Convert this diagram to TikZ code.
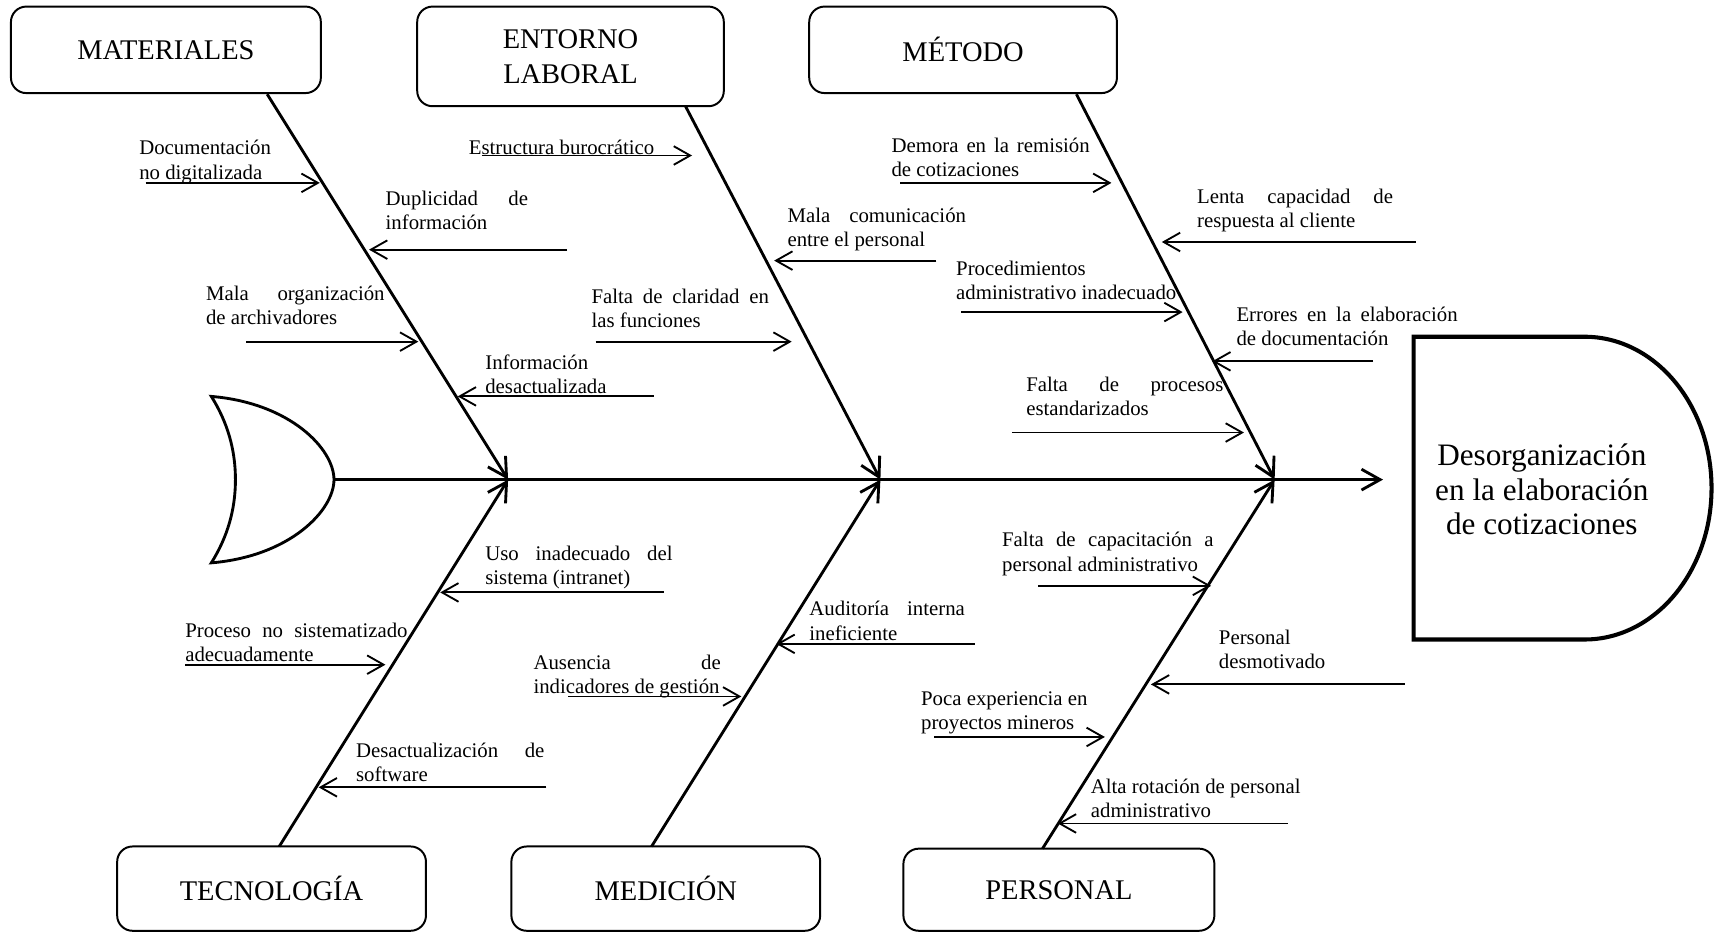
\documentclass[tikz,border=0pt]{standalone}
\usepackage{fontspec}
\setmainfont{Liberation Serif}
\usetikzlibrary{arrows.meta}
\newcommand\labfont{\fontsize{19}{22}\selectfont}
\newcommand\catfont{\fontsize{26}{32}\selectfont}
\newcommand\efffont{\fontsize{28.5}{31.5}\selectfont}
% a line spread out to a given width (pt)
\newcommand\jline[2]{\makebox[#1pt][s]{#2}}
\tikzset{
  catbox/.style={draw, line width=1.8pt, rounded corners=14pt, inner sep=0pt,
                 align=center, font=\catfont},
  % labels are placed by the baseline of their last line
  lab/.style={anchor=base west, inner sep=0pt, align=left, font=\labfont},
  cause/.style={-{Straight Barb[length=15pt,width=17pt]}, line width=1.7pt},
  bone/.style={-{Straight Barb[length=17pt,width=19pt]}, line width=2.6pt},
}
\begin{document}
\begin{tikzpicture}[x=1pt,y=-1pt]
\useasboundingbox (0,0) rectangle (1568,852);

% category boxes
\node[catbox, minimum width=283pt, minimum height=79pt] (mat) at (151.5,45.5) {\raisebox{-2pt}{MATERIALES}};
\node[catbox, minimum width=280pt, minimum height=91pt] (ent) at (521,51.5) {ENTORNO\\LABORAL};
\node[catbox, minimum width=281pt, minimum height=79pt] (met) at (879.5,45.5) {\raisebox{-2pt}{MÉTODO}};
\node[catbox, minimum width=282pt, minimum height=77pt] (tec) at (248,811.5) {\raisebox{-2pt}{TECNOLOGÍA}};
\node[catbox, minimum width=282pt, minimum height=77pt] (med) at (608,811.5) {MEDICIÓN};
\node[catbox, minimum width=284pt, minimum height=75pt] (per) at (967,812.5) {\raisebox{-2pt}{PERSONAL}};

% tail
\draw[line width=2.6pt, line join=miter]
  (193,362) .. controls (265,368) and (305,410) .. (305,438)
            .. controls (305,466) and (265,508) .. (193,514)
            .. controls (208,490) and (215,465) .. (215,438)
            .. controls (215,411) and (208,386) .. (193,362) -- cycle;
\coordinate (tail) at (305,438);
\coordinate (head) at (1263,438);

% head (effect)
\draw[line width=3.7pt, line join=miter]
  (1447,307.5) -- (1291,307.5) -- (1291,584) -- (1447,584)
  arc[start angle=-90, end angle=90, x radius=116pt, y radius=138.25pt];
\node[font=\efffont, align=center, inner sep=0pt] (eff) at (1408,447)
  {Desorganización\\en la elaboración\\de cotizaciones};

% spine and junctions
\coordinate (j1) at (464,438);
\coordinate (j2) at (804,438);
\coordinate (j3) at (1164,438);
\draw[bone] (tail) -- (head);

% bones
\coordinate (matb) at (244,86);
\coordinate (entb) at (626,97);
\coordinate (metb) at (983,86);
\coordinate (tecb) at (255,773);
\coordinate (medb) at (595,773);
\coordinate (perb) at (952,775);
\draw[bone] (matb) -- (j1);
\draw[bone] (tecb) -- (j1);
\draw[bone] (entb) -- (j2);
\draw[bone] (medb) -- (j2);
\draw[bone] (metb) -- (j3);
\draw[bone] (perb) -- (j3);

% cause arrows: number / start x / end x / y
\foreach \n/\xa/\xb/\y in {
  1/133/292/167, 2/518/337/228, 3/225/382/312, 4/597/418/362,
  5/440/632/142, 6/855/707/238, 7/544/723/312,
  8/822/1015/167, 9/1293/1061/221, 10/878/1080/285, 11/1254/1107/330, 12/924/1136/395,
  13/606/402/541, 14/169/352/607, 15/499/291/719,
  16/890/709/588, 17/519/677/636,
  18/948/1106/535, 19/1283/1051/625, 20/853/1009/673, 21/1176/966/752}
{
  \coordinate (s\n) at (\xa,\y);
  \coordinate (e\n) at (\xb,\y);
  \draw[cause] (s\n) -- (e\n);
}

% cause labels
\node[lab] (l1) at (127,163.5) {Documentación\\no digitalizada};
\node[lab] (l2) at (352,209.5) {\jline{130}{Duplicidad de}\\información};
\node[lab] (l3) at (188,296.5) {\jline{163}{Mala organización}\\de archivadores};
\node[lab] (l4) at (443,359.5) {Información\\desactualizada};
\node[lab] (l5) at (428,141) {Estructura burocrático};
\node[lab] (l6) at (719,225.5) {\jline{163}{Mala comunicación}\\entre el personal};
\node[lab] (l7) at (540,299.5) {\jline{162}{Falta de claridad en}\\las funciones};
\node[lab] (l8) at (814,161.5) {\jline{181}{Demora en la remisión}\\de cotizaciones};
\node[lab] (l9) at (1093,207.5) {\jline{179}{Lenta capacidad de}\\respuesta al cliente};
\node[lab] (l10) at (873,273.5) {Procedimientos\\administrativo inadecuado};
\node[lab] (l11) at (1129,315.5) {\jline{202}{Errores en la elaboración}\\de documentación};
\node[lab] (l12) at (937,379.5) {\jline{180}{Falta de procesos}\\estandarizados};
\node[lab] (l13) at (443,533.5) {\jline{171}{Uso inadecuado del}\\sistema (intranet)};
\node[lab] (l14) at (169,604.5) {\jline{203}{Proceso no sistematizado}\\adecuadamente};
\node[lab] (l15) at (325,713.5) {\jline{172}{Desactualización de}\\software};
\node[lab] (l16) at (739,584.5) {\jline{142}{Auditoría interna}\\ineficiente};
\node[lab] (l17) at (487,633.5) {\jline{171}{Ausencia de}\\indicadores de gestión};
\node[lab] (l18) at (915,521.5) {\jline{193}{Falta de capacitación a}\\personal administrativo};
\node[lab] (l19) at (1113,610.5) {Personal\\desmotivado};
\node[lab] (l20) at (841,666.5) {Poca experiencia en\\proyectos mineros};
\node[lab] (l21) at (996,746.5) {Alta rotación de personal\\administrativo};
\end{tikzpicture}
\end{document}
